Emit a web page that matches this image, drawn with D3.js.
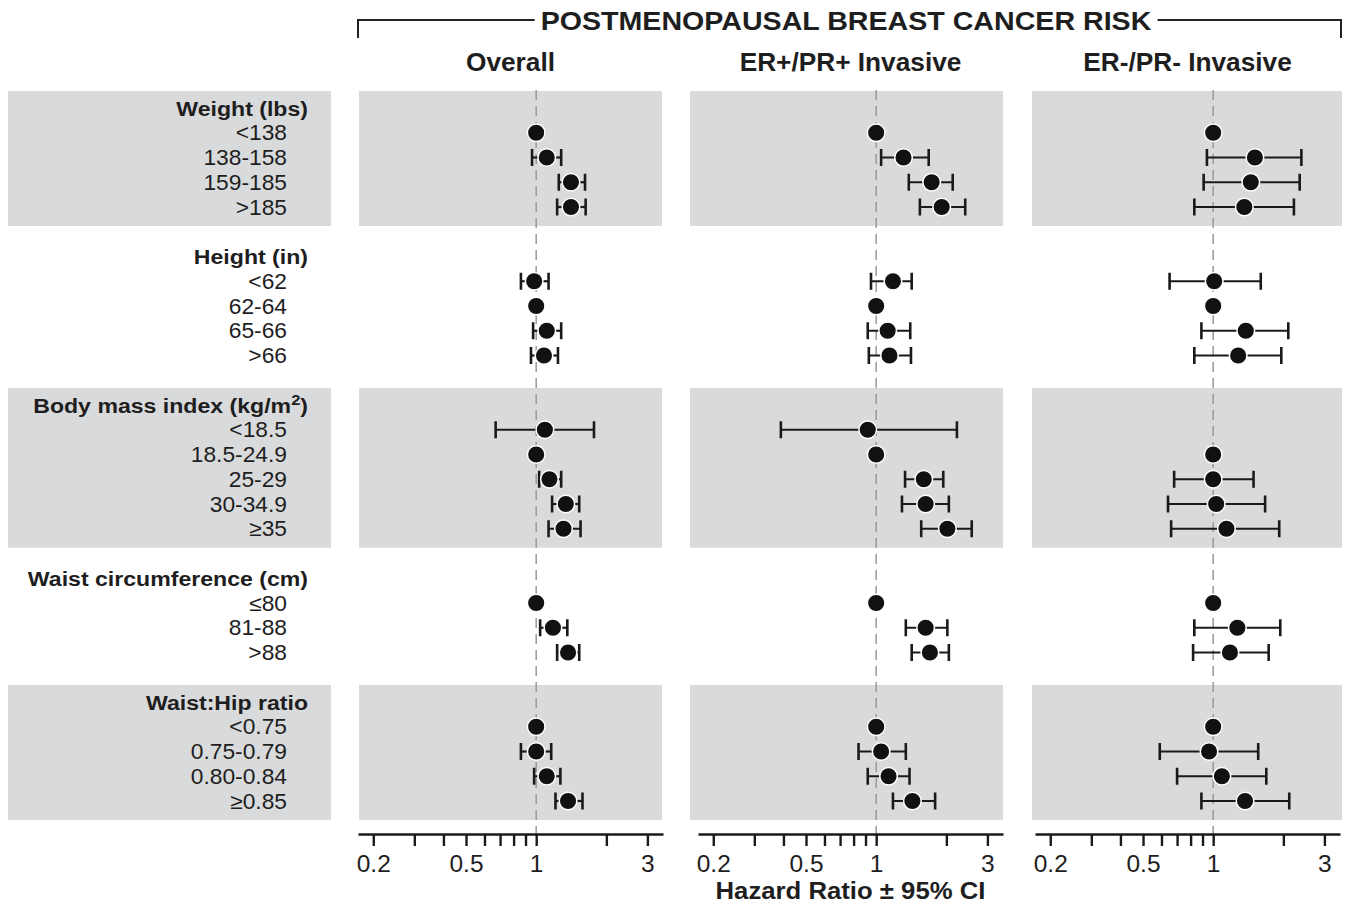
<!DOCTYPE html>
<html>
<head>
<meta charset="utf-8">
<script src="https://cdn.jsdelivr.net/npm/d3@7"></script>
<style>
  body { margin: 0; background: #fff; }
  text { font-family: "Liberation Sans", Arial, sans-serif; fill: #1e1e1e; }
</style>
</head>
<body>
<script>
var width = 1354, height = 919

// row groups
var groups = ["Weight (lbs)", "Height (in)", "Body mass index (kg/m2)", "Waist circumference (cm)", "Waist:Hip ratio"]
var groupRows = [
  ["<138", "138-158", "159-185", ">185"],
  ["<62", "62-64", "65-66", ">66"],
  ["<18.5", "18.5-24.9", "25-29", "30-34.9", "≥35"],
  ["≤80", "81-88", ">88"],
  ["<0.75", "0.75-0.79", "0.80-0.84", "≥0.85"]
]
var shaded = [true, false, true, false, true]

var panels = ["Overall", "ER+/PR+ Invasive", "ER-/PR- Invasive"]

// [hazard ratio, lower 95% CI, upper 95% CI], rows in the same order as groupRows
var overall = [
  [1, null, null], [1.11, 0.96, 1.28], [1.41, 1.25, 1.62], [1.41, 1.23, 1.63],
  [0.98, 0.86, 1.13], [1, null, null], [1.11, 0.97, 1.28], [1.08, 0.95, 1.24],
  [1.09, 0.67, 1.77], [1, null, null], [1.14, 1.03, 1.28], [1.34, 1.17, 1.53], [1.31, 1.13, 1.55],
  [1, null, null], [1.18, 1.04, 1.36], [1.37, 1.23, 1.53],
  [1, null, null], [1.00, 0.86, 1.16], [1.11, 0.98, 1.27], [1.37, 1.21, 1.58]
]
var erPos = [
  [1, null, null], [1.31, 1.05, 1.68], [1.73, 1.38, 2.13], [1.91, 1.54, 2.41],
  [1.18, 0.95, 1.42], [1, null, null], [1.12, 0.92, 1.40], [1.14, 0.93, 1.41],
  [0.92, 0.39, 2.22], [1, null, null], [1.60, 1.33, 1.94], [1.63, 1.29, 2.05], [2.02, 1.56, 2.57],
  [1, null, null], [1.63, 1.34, 2.02], [1.70, 1.42, 2.05],
  [1, null, null], [1.05, 0.84, 1.34], [1.13, 0.92, 1.39], [1.43, 1.18, 1.79]
]
var erNeg = [
  [1, null, null], [1.51, 0.94, 2.39], [1.45, 0.91, 2.35], [1.36, 0.83, 2.22],
  [1.01, 0.65, 1.60], [1, null, null], [1.38, 0.89, 2.10], [1.28, 0.83, 1.96],
  [null, null, null], [1, null, null], [1.00, 0.68, 1.49], [1.03, 0.64, 1.67], [1.14, 0.66, 1.92],
  [1, null, null], [1.27, 0.83, 1.94], [1.18, 0.82, 1.73],
  [1, null, null], [0.96, 0.59, 1.56], [1.09, 0.70, 1.69], [1.37, 0.89, 2.12]
]
var panelData = [overall, erPos, erNeg]

var tickVals = [0.2, 0.3, 0.4, 0.5, 0.6, 0.7, 0.8, 0.9, 1, 2, 3]
var tickLabels = [0.2, 0.5, 1, 3]

var svg = d3.select("body").append("svg")
    .attr("width", width)
    .attr("height", height)

// slots: header, rows, blank gap between groups
var slots = []
groups.forEach(function(g, gi) {
  slots.push("h" + gi)
  groupRows[gi].forEach(function(r, ri) { slots.push("r" + gi + "_" + ri) })
  if (gi < groups.length - 1) slots.push("gap" + gi)
})
var y = d3.scalePoint().domain(slots).range([108, 801])

// flat list of rows
var rows = []
groups.forEach(function(g, gi) {
  groupRows[gi].forEach(function(r, ri) { rows.push({g: gi, r: ri, label: r, key: "r" + gi + "_" + ri}) })
})

var axisY = 834
var panelX0 = [358, 698, 1035], panelW = 305
var grayX = [[359, 662], [690, 1003], [1032, 1342]]

function xScale(i) {
  return d3.scaleLog().domain([0.172, 3.5]).range([panelX0[i], panelX0[i] + panelW])
}

// text stretched a bit horizontally like the original figure
function stext(parent, str, x, yy, size, weight, anchor, sx) {
  return parent.append("text")
    .attr("transform", "translate(" + x + "," + yy + ") scale(" + sx + ",1)")
    .attr("text-anchor", anchor)
    .style("font-size", size + "px")
    .style("font-weight", weight)
    .text(str)
}

// shaded bands
groups.forEach(function(g, gi) {
  if (!shaded[gi]) return
  var top = y("h" + gi) - 17
  var bot = y("r" + gi + "_" + (groupRows[gi].length - 1)) + 19
  svg.append("rect").attr("x", 8).attr("y", top).attr("width", 323).attr("height", bot - top).attr("fill", "#d9dadc")
  grayX.forEach(function(gx) {
    svg.append("rect").attr("x", gx[0]).attr("y", top).attr("width", gx[1] - gx[0]).attr("height", bot - top).attr("fill", "#d9dadc")
  })
})

// row labels
var lab = svg.append("g")
groups.forEach(function(g, gi) {
  var t
  if (g.indexOf("kg/m2") >= 0) {
    t = stext(lab, "", 308, y("h" + gi) + 7.5, 21, "bold", "end", 1.1)
    t.append("tspan").text("Body mass index (kg/m")
    t.append("tspan").attr("dy", -8).style("font-size", "15px").text("2")
    t.append("tspan").attr("dy", 8).text(")")
  } else {
    stext(lab, g, 308, y("h" + gi) + 7.5, 21, "bold", "end", 1.1)
  }
})
rows.forEach(function(d) {
  stext(lab, d.label, 287, y(d.key) + 7.7, 21.5, "normal", "end", 1.06)
})

// title + bracket
var title = stext(svg, "POSTMENOPAUSAL BREAST CANCER RISK", 846, 29.5, 26, "bold", "middle", 1.1)
var tb = title.node().getBoundingClientRect()
svg.append("path")
  .attr("d", "M358,38V20H" + (tb.left - 6) + "M" + (tb.right + 6) + ",20H1341V38")
  .attr("fill", "none").attr("stroke", "#222").attr("stroke-width", 2)

panels.forEach(function(p, i) {
  var x = xScale(i)
  var g = svg.append("g")

  stext(g, p, panelX0[i] + panelW / 2, 71, 25, "bold", "middle", 1.05)

  // reference line at HR = 1
  g.append("line")
    .attr("x1", x(1)).attr("x2", x(1))
    .attr("y1", 90).attr("y2", axisY)
    .attr("stroke", "#999").attr("stroke-width", 1.5)
    .attr("stroke-dasharray", "10,6")

  var data = rows.map(function(r, k) {
    return {key: r.key, hr: panelData[i][k][0], lo: panelData[i][k][1], hi: panelData[i][k][2]}
  })
  var ci = data.filter(function(d) { return d.lo != null })

  g.selectAll(".ci").data(ci).enter().append("line")
    .attr("x1", function(d) { return x(d.lo) })
    .attr("x2", function(d) { return x(d.hi) })
    .attr("y1", function(d) { return y(d.key) })
    .attr("y2", function(d) { return y(d.key) })
    .attr("stroke", "#1a1a1a").attr("stroke-width", 2.2)

  ;["lo", "hi"].forEach(function(k) {
    g.selectAll(".cap" + k).data(ci).enter().append("line")
      .attr("x1", function(d) { return x(d[k]) })
      .attr("x2", function(d) { return x(d[k]) })
      .attr("y1", function(d) { return y(d.key) - 8.5 })
      .attr("y2", function(d) { return y(d.key) + 8.5 })
      .attr("stroke", "#1a1a1a").attr("stroke-width", 2.6)
  })

  g.selectAll("circle").data(data.filter(function(d) { return d.hr != null })).enter().append("circle")
    .attr("cx", function(d) { return x(d.hr) })
    .attr("cy", function(d) { return y(d.key) })
    .attr("r", 8.8)
    .attr("fill", "#111")
    .attr("stroke", "#fff").attr("stroke-width", 1.5)

  // axis
  var ax = g.append("g")
    .attr("transform", "translate(0," + axisY + ")")
    .call(d3.axisBottom(x)
      .tickValues(tickVals)
      .tickFormat(function(d) { return tickLabels.indexOf(d) >= 0 ? d : "" })
      .tickSize(12).tickSizeOuter(0).tickPadding(9))
  ax.select(".domain").attr("stroke", "#1a1a1a").attr("stroke-width", 2.6)
  ax.selectAll(".tick line").attr("stroke", "#1a1a1a").attr("stroke-width", 2.4)
  ax.selectAll(".tick text")
    .style("font-size", "24.5px")
    .style("font-family", "'Liberation Sans', Arial, sans-serif")
    .attr("fill", "#1e1e1e")
})

stext(svg, "Hazard Ratio ± 95% CI", 850.5, 899, 24.5, "bold", "middle", 1.05)
</script>
</body>
</html>
